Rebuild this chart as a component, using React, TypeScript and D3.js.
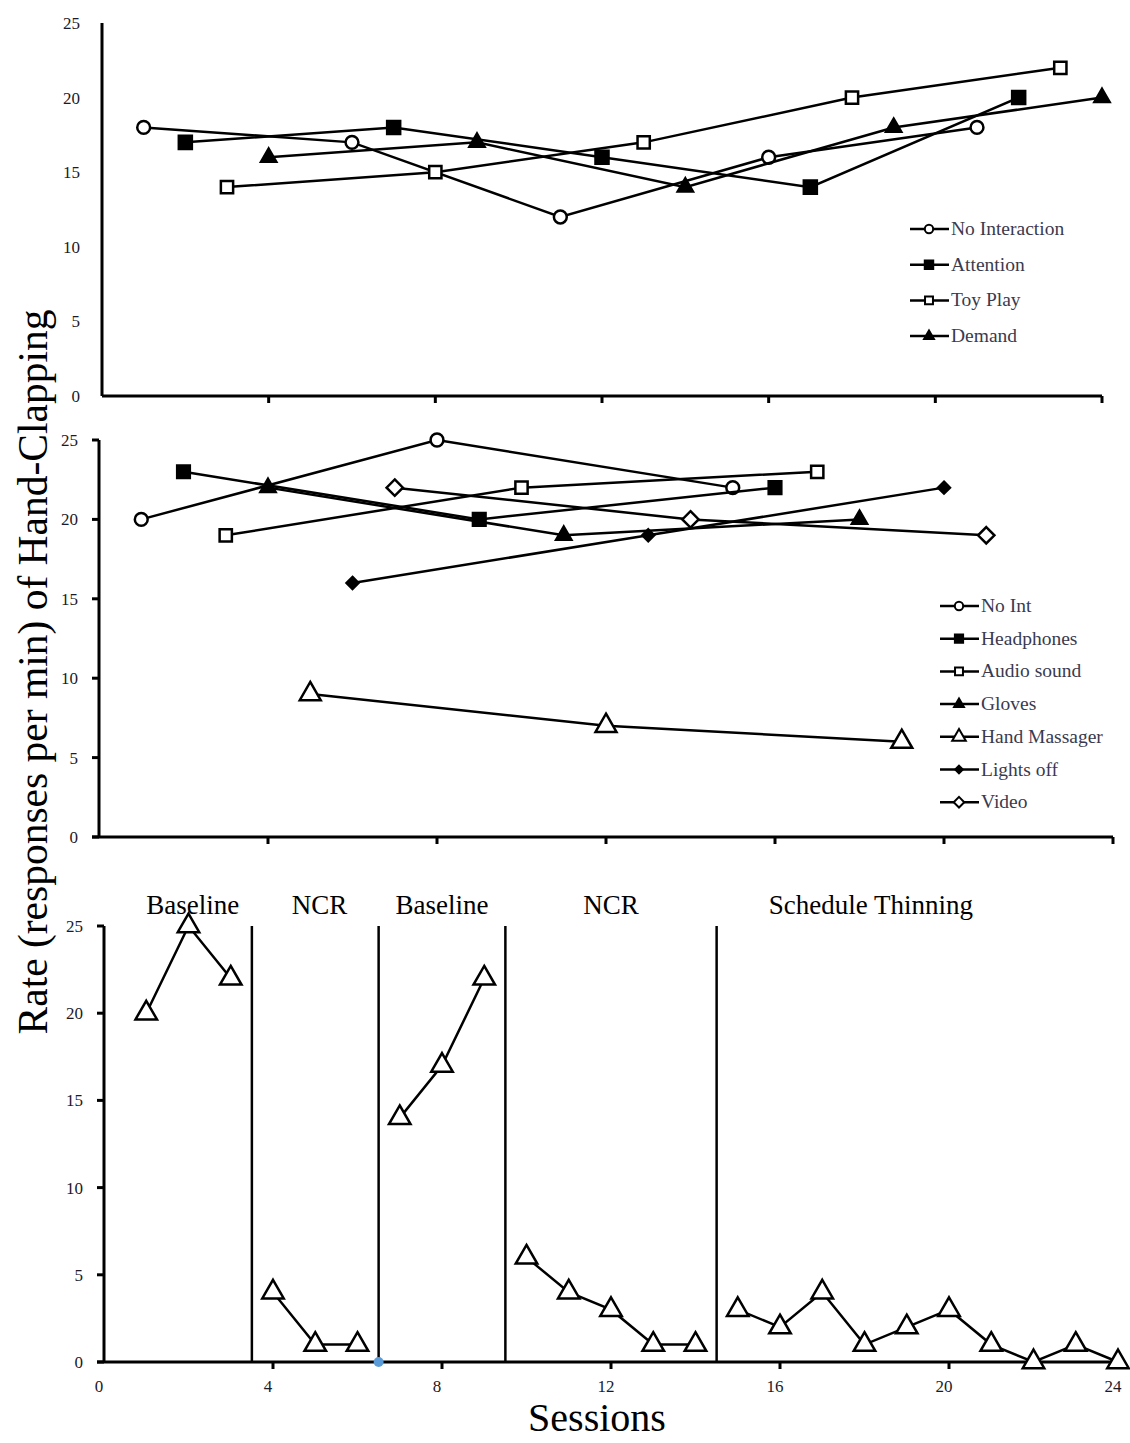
import React, { useEffect, useRef } from "react";
import * as d3 from "d3";

// Top panel: functional analysis
const topNames = ["No Interaction", "Attention", "Toy Play", "Demand"];
const topSessions = [
  [1, 6, 11, 16, 21],
  [2, 7, 12, 17, 22],
  [3, 8, 13, 18, 23],
  [4, 9, 14, 19, 24],
];
const topValues = [
  [18, 17, 12, 16, 18],
  [17, 18, 16, 14, 20],
  [14, 15, 17, 20, 22],
  [16, 17, 14, 18, 20],
];

// Middle panel: competing stimulus assessment
const midNames = ["No Int", "Headphones", "Audio sound", "Gloves", "Hand Massager", "Lights off", "Video"];
const midSessions = [
  [1, 8, 15],
  [2, 9, 16],
  [3, 10, 17],
  [4, 11, 18],
  [5, 12, 19],
  [6, 13, 20],
  [7, 14, 21],
];
const midValues = [
  [20, 25, 22],
  [23, 20, 22],
  [19, 22, 23],
  [22, 19, 20],
  [9, 7, 6],
  [16, 19, 22],
  [22, 20, 19],
];

// Bottom panel: treatment
const phaseNames = ["Baseline", "NCR", "Baseline", "NCR", "Schedule Thinning"];
const phaseSessions = [
  [1, 2, 3],
  [4, 5, 6],
  [7, 8, 9],
  [10, 11, 12, 13, 14],
  [15, 16, 17, 18, 19, 20, 21, 22, 23, 24],
];
const phaseValues = [
  [20, 25, 22],
  [4, 1, 1],
  [14, 17, 22],
  [6, 4, 3, 1, 1],
  [3, 2, 4, 1, 2, 3, 1, 0, 1, 0],
];
const phaseLabelAt = [2.1, 5.1, 8, 12, 18.15];
const markerPoint = { session: 6.5, value: 0 };

const yTicks = [0, 5, 10, 15, 20, 25];
const xTicks = [0, 4, 8, 12, 16, 20, 24];

const serif = "'Liberation Serif', 'Times New Roman', serif";

type Sym = { type: d3.SymbolType; size: number; fill: string };

const topStyle: Record<string, Sym> = {
  "No Interaction": { type: d3.symbolCircle, size: 130, fill: "#fff" },
  Attention: { type: d3.symbolSquare, size: 170, fill: "#000" },
  "Toy Play": { type: d3.symbolSquare, size: 150, fill: "#fff" },
  Demand: { type: d3.symbolTriangle, size: 100, fill: "#000" },
};
const midStyle: Record<string, Sym> = {
  "No Int": { type: d3.symbolCircle, size: 130, fill: "#fff" },
  Headphones: { type: d3.symbolSquare, size: 160, fill: "#000" },
  "Audio sound": { type: d3.symbolSquare, size: 150, fill: "#fff" },
  Gloves: { type: d3.symbolTriangle, size: 100, fill: "#000" },
  "Hand Massager": { type: d3.symbolTriangle, size: 190, fill: "#fff" },
  "Lights off": { type: d3.symbolDiamond2, size: 90, fill: "#000" },
  Video: { type: d3.symbolDiamond2, size: 170, fill: "#fff" },
};

const App = () => {
  const ref = useRef<SVGSVGElement>(null);

  useEffect(() => {
    document.body.style.margin = "0";
    const svg = d3.select(ref.current);
    svg.selectAll("*").remove();

    const line = (x: d3.ScaleLinear<number, number>, y: d3.ScaleLinear<number, number>) =>
      d3.line<[number, number]>().x((d) => x(d[0])).y((d) => y(d[1]));

    const drawAxes = (
      g: d3.Selection<SVGGElement, unknown, null, undefined>,
      x: d3.ScaleLinear<number, number>,
      y: d3.ScaleLinear<number, number>,
      opts: { yTickLen: number; xLabels: boolean; yLabelRight: number }
    ) => {
      const [x0, x1] = x.range();
      const [y0, y1] = y.range();
      g.append("line").attr("x1", x0).attr("x2", x0).attr("y1", y1).attr("y2", y0)
        .attr("stroke", "#000").attr("stroke-width", 3);
      g.append("line").attr("x1", x0 - (opts.yTickLen ? 7 : 0)).attr("x2", x1).attr("y1", y0).attr("y2", y0)
        .attr("stroke", "#000").attr("stroke-width", 3);
      // x ticks
      g.selectAll(".xt").data(xTicks.filter((t) => t > 0)).join("line")
        .attr("x1", (d) => x(d)).attr("x2", (d) => x(d))
        .attr("y1", y0).attr("y2", y0 + 7)
        .attr("stroke", "#000").attr("stroke-width", 3);
      if (opts.xLabels) {
        g.selectAll(".xl").data(xTicks).join("text")
          .attr("x", (d) => x(d) - 5).attr("y", y0 + 30)
          .attr("text-anchor", "middle")
          .attr("font-family", serif).attr("font-size", 17).attr("fill", "#1a1a2a")
          .text((d) => d);
      }
      if (opts.yTickLen) {
        g.selectAll(".yt").data(yTicks).join("line")
          .attr("x1", x0 - opts.yTickLen).attr("x2", x0)
          .attr("y1", (d) => y(d)).attr("y2", (d) => y(d))
          .attr("stroke", "#000").attr("stroke-width", 3);
      }
      g.selectAll(".yl").data(yTicks).join("text")
        .attr("x", opts.yLabelRight).attr("y", (d) => y(d) + 6)
        .attr("text-anchor", "end")
        .attr("font-family", serif).attr("font-size", 17).attr("fill", "#1a1a2a")
        .text((d) => d);
    };

    const drawSeries = (
      g: d3.Selection<SVGGElement, unknown, null, undefined>,
      x: d3.ScaleLinear<number, number>,
      y: d3.ScaleLinear<number, number>,
      sessions: number[],
      values: number[],
      sym: Sym
    ) => {
      const pts: [number, number][] = sessions.map((s, i) => [s, values[i]]);
      g.append("path").attr("d", line(x, y)(pts)).attr("fill", "none")
        .attr("stroke", "#000").attr("stroke-width", 2.5);
      const shape = d3.symbol().type(sym.type).size(sym.size);
      g.selectAll(null).data(pts).join("path")
        .attr("d", shape())
        .attr("transform", (d) => `translate(${x(d[0])},${y(d[1])})`)
        .attr("fill", sym.fill).attr("stroke", "#000").attr("stroke-width", 2.5);
    };

    const drawLegend = (
      g: d3.Selection<SVGGElement, unknown, null, undefined>,
      names: string[],
      style: Record<string, Sym>,
      left: number,
      top: number,
      step: number
    ) => {
      names.forEach((n, i) => {
        const cy = top + i * step;
        g.append("line").attr("x1", left).attr("x2", left + 39).attr("y1", cy).attr("y2", cy)
          .attr("stroke", "#000").attr("stroke-width", 2.5);
        g.append("path")
          .attr("d", d3.symbol().type(style[n].type).size(style[n].size * 0.42)())
          .attr("transform", `translate(${left + 19},${cy})`)
          .attr("fill", style[n].fill).attr("stroke", "#000").attr("stroke-width", 2);
        g.append("text").attr("x", left + 41).attr("y", cy + 6)
          .attr("font-family", serif).attr("font-size", 19.5).attr("fill", "#3a3a4e")
          .text(n);
      });
    };

    // ---- top panel
    const xTop = d3.scaleLinear().domain([0, 24]).range([102, 1102]);
    const yTop = d3.scaleLinear().domain([0, 25]).range([396, 23]);
    const gTop = svg.append("g");
    drawAxes(gTop, xTop, yTop, { yTickLen: 0, xLabels: false, yLabelRight: 80 });
    topNames.forEach((n, i) => drawSeries(gTop, xTop, yTop, topSessions[i], topValues[i], topStyle[n]));
    drawLegend(gTop, topNames, topStyle, 910, 229, 35.7);

    // ---- middle panel
    const xMid = d3.scaleLinear().domain([0, 24]).range([99, 1113]);
    const yMid = d3.scaleLinear().domain([0, 25]).range([837, 440]);
    const gMid = svg.append("g");
    drawAxes(gMid, xMid, yMid, { yTickLen: 7, xLabels: false, yLabelRight: 78 });
    midNames.forEach((n, i) => drawSeries(gMid, xMid, yMid, midSessions[i], midValues[i], midStyle[n]));
    drawLegend(gMid, midNames, midStyle, 940, 606, 32.7);

    // ---- bottom panel
    const xBot = d3.scaleLinear().domain([0, 24]).range([104, 1118]);
    const yBot = d3.scaleLinear().domain([0, 25]).range([1362, 926]);
    const gBot = svg.append("g");
    drawAxes(gBot, xBot, yBot, { yTickLen: 7, xLabels: true, yLabelRight: 83 });
    const triBig: Sym = { type: d3.symbolTriangle, size: 200, fill: "#fff" };
    phaseNames.forEach((n, i) => {
      if (i > 0) {
        const prev = phaseSessions[i - 1];
        const cx = xBot((prev[prev.length - 1] + phaseSessions[i][0]) / 2);
        gBot.append("line").attr("x1", cx).attr("x2", cx)
          .attr("y1", yBot(25)).attr("y2", yBot(0))
          .attr("stroke", "#000").attr("stroke-width", 2.5);
      }
      gBot.append("text").attr("x", xBot(phaseLabelAt[i])).attr("y", 914)
        .attr("text-anchor", "middle")
        .attr("font-family", serif).attr("font-size", 27).attr("fill", "#000")
        .text(n);
    });
    phaseNames.forEach((n, i) => drawSeries(gBot, xBot, yBot, phaseSessions[i], phaseValues[i], triBig));
    gBot.append("circle").attr("cx", xBot(markerPoint.session)).attr("cy", yBot(markerPoint.value))
      .attr("r", 5).attr("fill", "#5b9bd8");

    // ---- axis titles
    svg.append("text")
      .attr("transform", "translate(47,672) rotate(-90)")
      .attr("text-anchor", "middle")
      .attr("font-family", serif).attr("font-size", 41.5).attr("fill", "#000")
      .text("Rate (responses per min) of Hand-Clapping");
    svg.append("text").attr("x", 597).attr("y", 1431)
      .attr("text-anchor", "middle")
      .attr("font-family", serif).attr("font-size", 40).attr("fill", "#000")
      .text("Sessions");
  }, []);

  return <svg ref={ref} width={1130} height={1443} style={{ display: "block", background: "#fff" }} />;
};

export default App;
